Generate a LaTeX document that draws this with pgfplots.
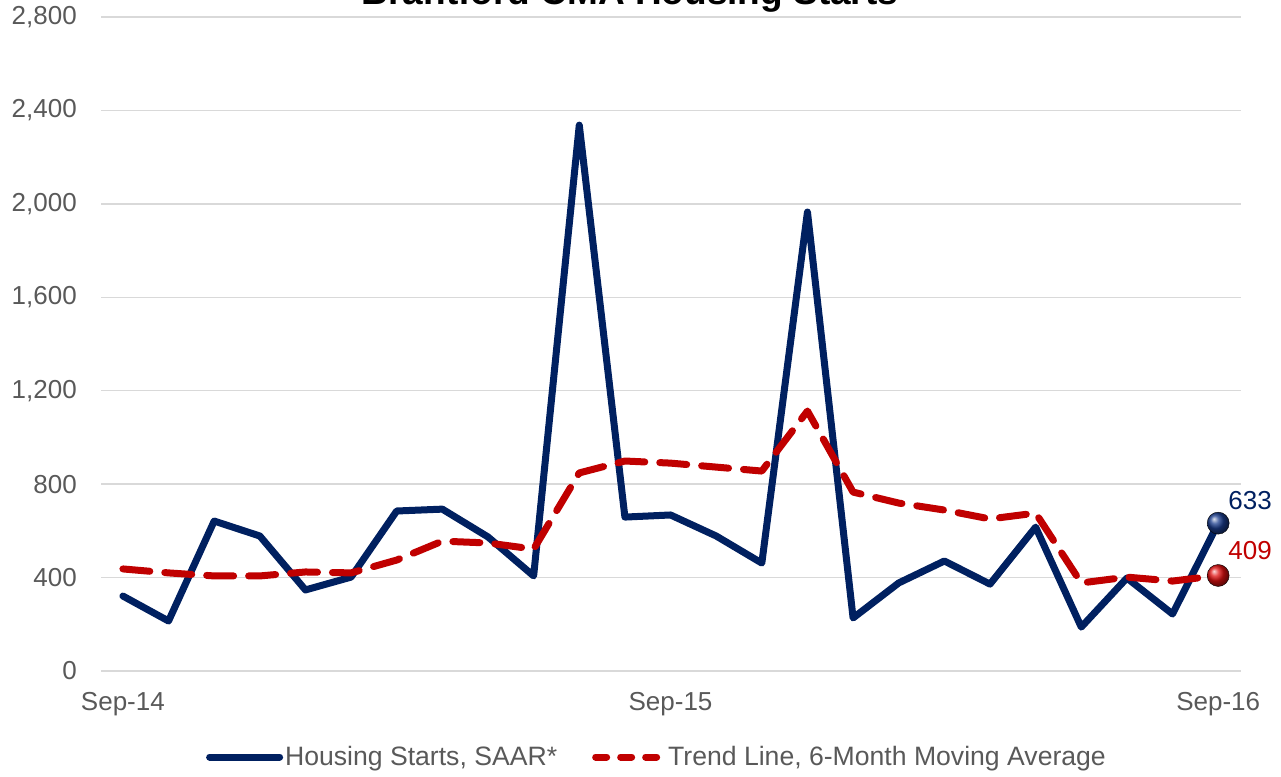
\documentclass[border=0pt]{standalone}
\usepackage{fontspec}
\setmainfont{Liberation Sans}
\usepackage{pgfplots}
\pgfplotsset{compat=1.18}
\definecolor{navy}{HTML}{002060}
\definecolor{darkred}{HTML}{C00000}
\definecolor{ballblue}{HTML}{1A3C8C}
\definecolor{ballred}{HTML}{E01010}
\definecolor{gridgray}{HTML}{D9D9D9}
\definecolor{labelgray}{HTML}{595959}
\begin{document}
\begin{tikzpicture}
\begin{axis}[
  at={(101pt,105pt)}, anchor=south west,
  scale only axis, width=1140pt, height=654pt,
  xmin=-0.48, xmax=24.5, ymin=0, ymax=2800,
  clip=false,
  ytick={0,400,...,2800},
  xtick={0,12,24}, xticklabels={Sep-14,Sep-15,Sep-16},
  axis line style={draw=none},
  tick style={draw=none},
  major tick length=0pt,
  ymajorgrids, grid style={gridgray, line width=1.5pt},
  scaled y ticks=false,
  /pgf/number format/.cd, 1000 sep={,}, assume math mode=true,
  /pgfplots/.cd,
  tick label style={font=\fontsize{26pt}{31pt}\selectfont, text=labelgray},
  yticklabel style={anchor=east, inner sep=0pt, xshift=-24pt},
  xticklabel style={anchor=north, inner sep=0pt, yshift=-21pt},
  legend columns=2,
  legend style={at={(0.4877,-0.1315)}, anchor=center, draw=none, fill=none,
    font=\fontsize{26.6pt}{31pt}\selectfont, text=labelgray,
    /tikz/every even column/.style={column sep=33pt},
    nodes={inner sep=2pt}},
]
\addplot[navy, line width=7pt, line join=round, line cap=round,
  legend image code/.code={\draw[navy, line width=7pt, line cap=round] (0pt,0pt) -- (70pt,0pt);}]
coordinates {
(0,321) (1,214) (2,642) (3,578) (4,347) (5,402) (6,685) (7,693) (8,574) (9,407)
(10,2337) (11,659) (12,668) (13,578) (14,462) (15,1965) (16,227) (17,377) (18,471)
(19,372) (20,616) (21,188) (22,398) (23,244) (24,633)};
\addlegendentry{Housing Starts, SAAR*}
\addplot[darkred, line width=7pt, line join=round, line cap=round, dash pattern=on 27pt off 15pt,
  legend image code/.code={\draw[darkred, line width=7pt, line cap=round, dash pattern=on 11pt off 14pt] (3pt,0pt) -- (70pt,0pt);}]
coordinates {
(0,437) (1,420) (2,407) (3,407) (4,424) (5,420) (6,475) (7,556) (8,548) (9,522)
(10,848) (11,899) (12,890) (13,873) (14,856) (15,1113) (16,766) (17,719) (18,689)
(19,651) (20,676) (21,377) (22,402) (23,385) (24,409)};
\addlegendentry{Trend Line, 6-Month Moving Average}
\addplot[forget plot, only marks, mark=ball, mark size=11pt, ball color=ballblue]
  coordinates {(24,633)} node[anchor=base west, inner sep=0pt, xshift=10pt, yshift=14pt,
  font=\fontsize{26pt}{31pt}\selectfont, text=navy] {633};
\addplot[forget plot, only marks, mark=ball, mark size=11pt, ball color=ballred]
  coordinates {(24,409)} node[anchor=base west, inner sep=0pt, xshift=10pt, yshift=16pt,
  font=\fontsize{26pt}{31pt}\selectfont, text=darkred] {409};
\end{axis}
\node[anchor=base, inner sep=0pt, font=\bfseries\fontsize{37pt}{44pt}\selectfont] at (630pt,771pt) {Brantford CMA Housing Starts};
\pgfresetboundingbox
\path[use as bounding box] (0pt,0pt) rectangle (1281pt,776pt);
\end{tikzpicture}
\end{document}
